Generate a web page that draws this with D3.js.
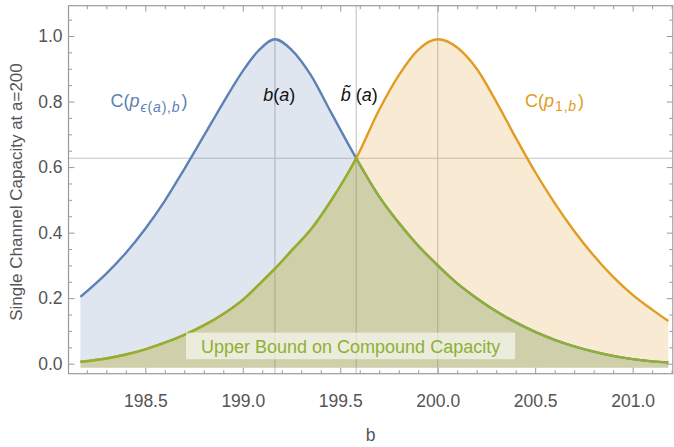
<!DOCTYPE html>
<html>
<head>
<meta charset="utf-8">
<script src="https://cdn.jsdelivr.net/npm/d3@7"></script>
<style>
    body { margin: 0; background: #fff; }
    svg { display: block; font-family: "Liberation Sans", Arial, sans-serif; }
</style>
</head>
<body>
<svg id="chart" width="674" height="447"></svg>
<script>
const bValues = [198.167, 198.3, 198.4, 198.5, 198.6, 198.7, 198.8, 198.9, 199.0, 199.08,
    199.165, 199.25, 199.35, 199.45, 199.582, 199.7, 199.8, 199.9, 200.0, 200.1,
    200.2, 200.3, 200.4, 200.5, 200.6, 200.7, 200.8, 200.9, 201.0, 201.1, 201.183];

// C(p_eps(a),b)
const blueCap = [0.204, 0.275, 0.338, 0.412, 0.497, 0.594, 0.695, 0.797, 0.893, 0.955,
    0.99, 0.958, 0.88, 0.77, 0.627, 0.51, 0.43, 0.36, 0.30, 0.245,
    0.20, 0.16, 0.126, 0.097, 0.073, 0.053, 0.037, 0.024, 0.014, 0.007, 0.004];

// C(p_1,b)
const orangeCap = [0.006, 0.016, 0.028, 0.044, 0.064, 0.088, 0.117, 0.152, 0.195, 0.24,
    0.29, 0.345, 0.41, 0.495, 0.627, 0.775, 0.88, 0.958, 0.99, 0.965,
    0.90, 0.80, 0.69, 0.585, 0.49, 0.405, 0.33, 0.265, 0.21, 0.165, 0.13];

// b(a), b~(a) and the crossing capacity
const bA = 199.165, bTilde = 199.582, bOne = 200.0;
const gridB = [bA, bTilde, bOne];
const gridCap = [0.627];

// ticks
const xMajor = [198.5, 199.0, 199.5, 200.0, 200.5, 201.0];
const xMinor = [198.2, 198.3, 198.4, 198.6, 198.7, 198.8, 198.9, 199.1, 199.2, 199.3, 199.4,
    199.6, 199.7, 199.8, 199.9, 200.1, 200.2, 200.3, 200.4, 200.6, 200.7, 200.8, 200.9, 201.1, 201.2];
const yMajor = [0, 0.2, 0.4, 0.6, 0.8, 1.0];
const yMinor = [0.05, 0.1, 0.15, 0.25, 0.3, 0.35, 0.45, 0.5, 0.55, 0.65, 0.7, 0.75, 0.85, 0.9, 0.95, 1.05];

const blue = '#5e81b5', orange = '#e19c24', green = '#8fb032';
const tickGrey = '#9a9a9a', labelGrey = '#555';

const svg = d3.select('#chart');

const x = d3.scaleLinear().domain([198.106, 201.206]).range([68.5, 672.8]);
const y = d3.scaleLinear().domain([-0.0305, 1.0925]).range([373.7, 5.7]);
const fillBase = -0.012;

const blueData = bValues.map((b, i) => ({ b, c: blueCap[i] }));
const orangeData = bValues.map((b, i) => ({ b, c: orangeCap[i] }));

const [plotLeft, plotRight] = x.range();
const [plotBottom, plotTop] = y.range();

const area = d3.area()
    .x(d => x(d.b))
    .y0(y(fillBase))
    .y1(d => y(d.c))
    .curve(d3.curveMonotoneX);

const line = d3.line()
    .x(d => x(d.b))
    .y(d => y(d.c))
    .curve(d3.curveMonotoneX);

// clip regions for the lower envelope (upper bound)
const defs = svg.append('defs');
defs.append('clipPath').attr('id', 'under-blue')
    .append('path').attr('d', area(blueData));
defs.append('clipPath').attr('id', 'left-of-cross')
    .append('rect')
    .attr('x', 0).attr('y', 0)
    .attr('width', x(bTilde)).attr('height', 447);
defs.append('clipPath').attr('id', 'right-of-cross')
    .append('rect')
    .attr('x', x(bTilde)).attr('y', 0)
    .attr('width', 674 - x(bTilde)).attr('height', 447);

// grid lines behind everything
const grid = svg.append('g').attr('stroke', '#c4c4c4').attr('stroke-width', 1.1);
grid.selectAll('line.v')
    .data(gridB)
    .join('line')
    .attr('class', 'v')
    .attr('x1', d => x(d)).attr('x2', d => x(d))
    .attr('y1', plotBottom).attr('y2', plotTop);
grid.selectAll('line.h')
    .data(gridCap)
    .join('line')
    .attr('class', 'h')
    .attr('x1', plotLeft).attr('x2', plotRight)
    .attr('y1', d => y(d)).attr('y2', d => y(d));

// fills
const fills = svg.append('g');
fills.append('path').attr('d', area(blueData))
    .attr('fill', blue).attr('fill-opacity', 0.2);
fills.append('path').attr('d', area(orangeData))
    .attr('fill', orange).attr('fill-opacity', 0.2);
fills.append('path').attr('d', area(orangeData))
    .attr('clip-path', 'url(#under-blue)')
    .attr('fill', green).attr('fill-opacity', 0.2);

// curves
const curves = svg.append('g')
    .attr('fill', 'none')
    .attr('stroke-width', 2.4)
    .attr('stroke-linejoin', 'round');
curves.append('path').attr('d', line(blueData)).attr('stroke', blue);
curves.append('path').attr('d', line(orangeData)).attr('stroke', orange);
curves.append('path').attr('d', line(orangeData))
    .attr('clip-path', 'url(#left-of-cross)').attr('stroke', green);
curves.append('path').attr('d', line(blueData))
    .attr('clip-path', 'url(#right-of-cross)').attr('stroke', green);

// Upper bound label with its box
const ubX = x(199.553), ubY = y(0.032);
const ubGroup = svg.append('g');
const ubBox = ubGroup.append('rect');
const ubText = ubGroup.append('text')
    .attr('x', ubX)
    .attr('y', ubY)
    .attr('text-anchor', 'middle')
    .attr('font-size', '18px')
    .attr('fill', green)
    .text('Upper Bound on Compound Capacity');
const ubW = ubText.node().getComputedTextLength();
ubBox
    .attr('x', ubX - ubW / 2 - 15)
    .attr('y', ubY - 20.6)
    .attr('width', ubW + 30)
    .attr('height', 26.6)
    .attr('fill', '#fff')
    .attr('fill-opacity', 0.6);

// curve labels
function addLabel(bx, cy, color, parts) {
    const t = svg.append('text')
        .attr('x', x(bx))
        .attr('y', y(cy))
        .attr('font-size', '18px')
        .attr('fill', color);
    parts.forEach(p => {
        const s = t.append('tspan').text(p.t);
        if (p.i) s.attr('font-style', 'italic');
        if (p.s) s.attr('font-size', p.s + 'px').attr('letter-spacing', 0.8);
        if (p.dy) s.attr('dy', p.dy);
        if (p.dx) s.attr('dx', p.dx);
    });
    return t;
}

addLabel(198.322, 0.782, blue, [
    { t: 'C(' }, { t: 'p', i: 1 },
    { t: '\u03f5', i: 1, s: 14, dy: 4.5, dx: 1 }, { t: '(', s: 14 }, { t: 'a', i: 1, s: 14 },
    { t: '),', s: 14 }, { t: 'b', i: 1, s: 14 },
    { t: ')', dy: -4.5, dx: 1 }
]);

addLabel(200.448, 0.784, orange, [
    { t: 'C(' }, { t: 'p', i: 1 },
    { t: '1,', s: 14, dy: 4.5, dx: 1 }, { t: 'b', i: 1, s: 14 },
    { t: ')', dy: -4.5, dx: 1 }
]);

addLabel(199.105, 0.8026, '#111', [
    { t: 'b', i: 1 }, { t: '(' }, { t: 'a', i: 1 }, { t: ')' }
]);

addLabel(199.502, 0.8026, '#111', [
    { t: 'b\u0303', i: 1 }, { t: ' (' }, { t: 'a', i: 1 }, { t: ')' }
]);

// frame and ticks
const frame = svg.append('g');

function styleAxis(g) {
    g.select('.domain').remove();
    g.selectAll('.tick line').attr('stroke', tickGrey);
    g.selectAll('.tick text')
        .attr('fill', labelGrey)
        .attr('font-size', '17.5px')
        .attr('font-family', '"Liberation Sans", Arial, sans-serif');
}

const fmt = d3.format('.1f');

frame.append('g').attr('transform', `translate(0,${plotBottom})`)
    .call(d3.axisBottom(x).tickValues(xMajor).tickFormat(fmt).tickSize(-6).tickPadding(21))
    .call(styleAxis);
frame.append('g').attr('transform', `translate(0,${plotBottom})`)
    .call(d3.axisBottom(x).tickValues(xMinor).tickFormat('').tickSize(-3.5))
    .call(styleAxis);
frame.append('g').attr('transform', `translate(0,${plotTop})`)
    .call(d3.axisTop(x).tickValues(xMajor).tickFormat('').tickSize(-6))
    .call(styleAxis);
frame.append('g').attr('transform', `translate(0,${plotTop})`)
    .call(d3.axisTop(x).tickValues(xMinor).tickFormat('').tickSize(-3.5))
    .call(styleAxis);

frame.append('g').attr('transform', `translate(${plotLeft},0)`)
    .call(d3.axisLeft(y).tickValues(yMajor).tickFormat(fmt).tickSize(-6).tickPadding(6))
    .call(styleAxis);
frame.append('g').attr('transform', `translate(${plotLeft},0)`)
    .call(d3.axisLeft(y).tickValues(yMinor).tickFormat('').tickSize(-3.5))
    .call(styleAxis);
frame.append('g').attr('transform', `translate(${plotRight},0)`)
    .call(d3.axisRight(y).tickValues(yMajor).tickFormat('').tickSize(-6))
    .call(styleAxis);
frame.append('g').attr('transform', `translate(${plotRight},0)`)
    .call(d3.axisRight(y).tickValues(yMinor).tickFormat('').tickSize(-3.5))
    .call(styleAxis);

frame.append('rect')
    .attr('x', plotLeft).attr('y', plotTop)
    .attr('width', plotRight - plotLeft).attr('height', plotBottom - plotTop)
    .attr('fill', 'none')
    .attr('stroke', tickGrey)
    .attr('stroke-width', 1.2);

// axis titles
svg.append('text')
    .attr('x', (plotLeft + plotRight) / 2)
    .attr('y', 441)
    .attr('text-anchor', 'middle')
    .attr('font-size', '17.5px')
    .attr('fill', labelGrey)
    .text('b');

svg.append('text')
    .attr('transform', 'translate(22,192) rotate(-90)')
    .attr('text-anchor', 'middle')
    .attr('font-size', '17px')
    .attr('fill', labelGrey)
    .text('Single Channel Capacity at a=200');
</script>
</body>
</html>
